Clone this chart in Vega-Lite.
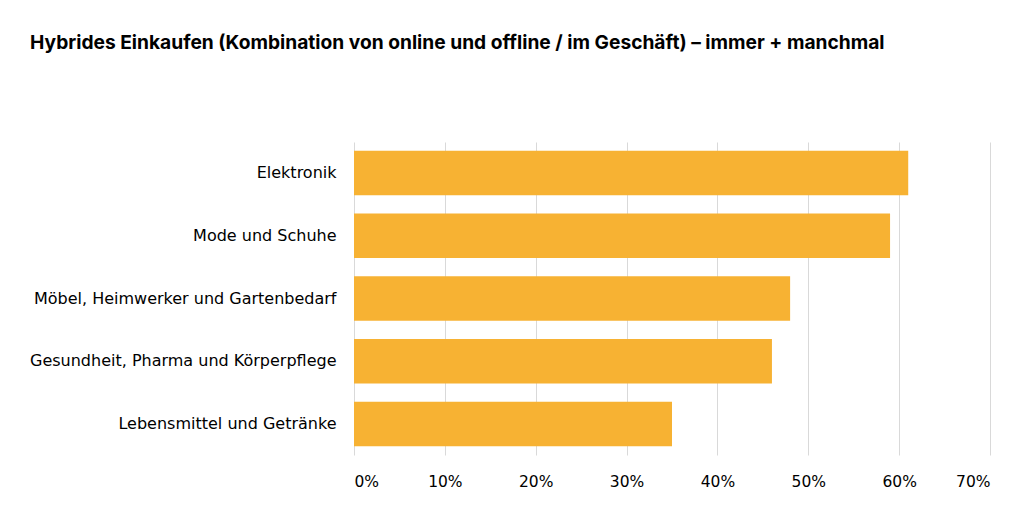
{
  "$schema": "https://vega.github.io/schema/vega-lite/v6.json",
  "width": 636,
  "height": 313,
  "autosize": {"type": "none"},
  "padding": {"left": 354, "top": 142, "right": 34, "bottom": 63},
  "background": "white",
  "title": {
    "text": "Hybrides Einkaufen (Kombination von online und offline  / im Geschäft) – immer + manchmal",
    "anchor": "start",
    "frame": "group",
    "dx": -324,
    "offset": 89,
    "font": "Inter",
    "fontSize": 19.2,
    "fontWeight": "bold",
    "color": "#000000"
  },
  "data": {
    "values": [
      {"Kategorie": "Elektronik", "Anteil": 0.61},
      {"Kategorie": "Mode und Schuhe", "Anteil": 0.59},
      {"Kategorie": "Möbel, Heimwerker und Gartenbedarf", "Anteil": 0.48},
      {"Kategorie": "Gesundheit, Pharma und Körperpflege", "Anteil": 0.46},
      {"Kategorie": "Lebensmittel und Getränke", "Anteil": 0.35}
    ]
  },
  "mark": {"type": "bar", "color": "#F7B233"},
  "encoding": {
    "y": {
      "field": "Kategorie",
      "type": "nominal",
      "sort": null,
      "scale": {"paddingInner": 0.29, "paddingOuter": 0.14},
      "axis": {
        "title": null,
        "domain": false,
        "ticks": false,
        "grid": false,
        "labelFont": "DejaVu Sans",
        "labelFontSize": 16,
        "labelColor": "#000000",
        "labelPadding": 18,
        "labelLimit": 400
      }
    },
    "x": {
      "field": "Anteil",
      "type": "quantitative",
      "scale": {"domain": [0, 0.7], "nice": false},
      "axis": {
        "title": null,
        "format": ".0%",
        "values": [0, 0.1, 0.2, 0.3, 0.4, 0.5, 0.6, 0.7],
        "domain": false,
        "ticks": false,
        "grid": true,
        "gridColor": "#D9D9D9",
        "gridWidth": 1,
        "labelFont": "DejaVu Sans",
        "labelFontSize": 15.5,
        "labelColor": "#000000",
        "labelPadding": 19
      }
    }
  },
  "config": {"view": {"stroke": null}}
}
